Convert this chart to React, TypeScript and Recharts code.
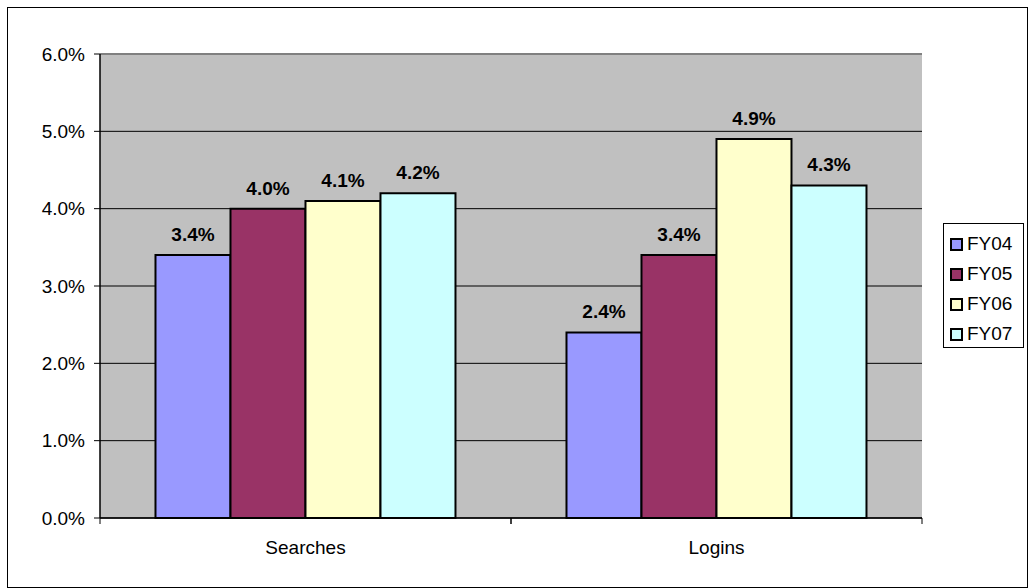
import React from 'react';
import {
  BarChart, Bar, XAxis, YAxis, CartesianGrid, Legend, LabelList, ReferenceLine,
} from 'recharts';

const categories = ['Searches', 'Logins'];
const seriesNames = ['FY04', 'FY05', 'FY06', 'FY07'];
const fy04 = [3.4, 2.4];
const fy05 = [4.0, 3.4];
const fy06 = [4.1, 4.9];
const fy07 = [4.2, 4.3];
const yTicks = [0, 1, 2, 3, 4, 5, 6];

const colors = ['#9999FF', '#993366', '#FFFFCC', '#CCFFFF'];
const FONT = '"Liberation Sans", Arial, sans-serif';

const data = categories.map((name, i) => ({
  name,
  FY04: fy04[i],
  FY05: fy05[i],
  FY06: fy06[i],
  FY07: fy07[i],
}));

// label at the band centre, tick marks on the band edges (Excel style)
function CatTick({ x, y, payload }: any) {
  const half = payload?.offset ?? 0;
  return (
    <g>
      <line x1={x - half} x2={x - half} y1={y} y2={y + 6} stroke="#000" />
      <line x1={x + half} x2={x + half} y1={y} y2={y + 6} stroke="#000" />
      <text x={x} y={y + 36} textAnchor="middle" fill="#000" fontSize={19} fontFamily={FONT}>
        {payload.value}
      </text>
    </g>
  );
}

function LegendBox({ payload }: any) {
  return (
    <div
      style={{
        width: 81, height: 125, boxSizing: 'border-box', border: '1px solid #000',
        background: '#fff', paddingTop: 5, fontFamily: FONT, fontSize: 19,
      }}
    >
      {(payload || []).map((p: any) => (
        <div key={p.value} style={{ display: 'flex', alignItems: 'center', height: 30, paddingLeft: 6 }}>
          <span
            style={{
              width: 13, height: 13, boxSizing: 'border-box', border: '2px solid #000',
              background: p.color, marginRight: 4, display: 'inline-block',
            }}
          />
          <span style={{ color: '#000', lineHeight: '30px' }}>{p.value}</span>
        </div>
      ))}
    </div>
  );
}

export default function App() {
  return (
    <div style={{ position: 'fixed', left: 0, top: 0, width: 1028, height: 588, background: '#fff', overflow: 'hidden' }}>
      <div
        style={{
          position: 'absolute', left: 7, top: 7, width: 1021, height: 581,
          boxSizing: 'border-box', border: '1px solid #000',
        }}
      />
      <div style={{ position: 'absolute', left: 0, top: 0 }}>
        <BarChart
          width={1028}
          height={588}
          data={data}
          margin={{ top: 54, right: 106, left: 0, bottom: 40 }}
          barCategoryGap="13.5%"
          barGap={0}
        >
          <CartesianGrid vertical={false} stroke="#000" fill="#C0C0C0" fillOpacity={1} />
          <XAxis
            dataKey="name"
            interval={0}
            tickSize={0}
            tickMargin={0}
            tickLine={false}
            tick={<CatTick />}
            axisLine={{ stroke: '#000', strokeWidth: 1.5 }}
            height={30}
          />
          <YAxis
            domain={[0, 6]}
            ticks={yTicks}
            interval={0}
            width={100}
            tickSize={6}
            tickMargin={9}
            tickFormatter={(v) => `${v.toFixed(1)}%`}
            tick={{ fill: '#000', fontSize: 19, fontFamily: FONT }}
            tickLine={{ stroke: '#000' }}
            axisLine={{ stroke: '#000', strokeWidth: 1.5 }}
          />
          <YAxis
            yAxisId="edge"
            orientation="right"
            width={0}
            tick={false}
            tickLine={false}
            axisLine={{ stroke: '#808080', strokeWidth: 2 }}
          />
          <ReferenceLine y={6} stroke="#808080" strokeWidth={2} />
          <Legend
            layout="vertical"
            align="center"
            verticalAlign="middle"
            content={<LegendBox />}
            wrapperStyle={{ position: 'absolute', left: 943, top: 223, width: 81, height: 125 }}
          />
          {seriesNames.map((s, i) => (
            <Bar key={s} dataKey={s} fill={colors[i]} stroke="#000" strokeWidth={2} isAnimationActive={false}>
              <LabelList
                dataKey={s}
                position="top"
                offset={14}
                formatter={(v: any) => `${Number(v).toFixed(1)}%`}
                style={{ fill: '#000', fontSize: 19, fontWeight: 'bold', fontFamily: FONT }}
              />
            </Bar>
          ))}
        </BarChart>
      </div>
    </div>
  );
}
